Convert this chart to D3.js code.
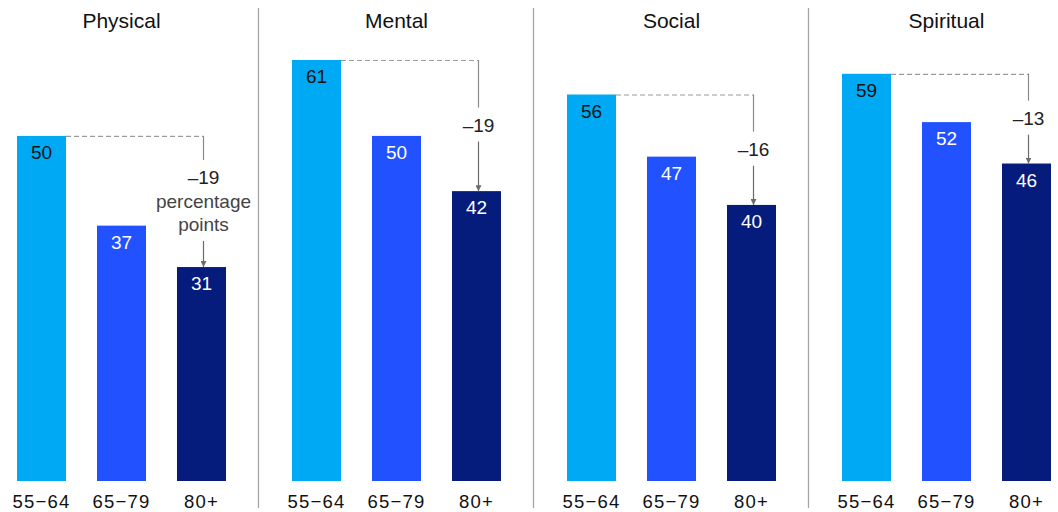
<!DOCTYPE html>
<html>
<head>
<meta charset="utf-8">
<script src="https://cdn.jsdelivr.net/npm/d3@7"></script>
<style>
  html, body { margin: 0; padding: 0; background: #fff; }
  svg { display: block; font-family: "Liberation Sans", Arial, Helvetica, sans-serif; }
</style>
</head>
<body>
<svg id="chart" width="1058" height="512"></svg>
<script>
// Share of respondents by age group, per dimension of health
const panels = ["Physical", "Mental", "Social", "Spiritual"];
const ageGroups = ["55\u221264", "65\u221279", "80+"];
const physical = [50, 37, 31];
const mental = [61, 50, 42];
const social = [56, 47, 40];
const spiritual = [59, 52, 46];
const changes = ["\u201319", "\u201319", "\u201316", "\u201313"];
const changeNotes = [["percentage", "points"], [], [], []];

const series = [physical, mental, social, spiritual];
const colors = ["#00A9F4", "#2251FF", "#051C7C"];
const labelColors = ["#111111", "#ffffff", "#ffffff"];

const svg = d3.select("#chart");
const panelWidth = 275;
const baseline = 481;

const y = d3.scaleLinear().domain([0, 61]).range([baseline, 60]);
const x = d3.scaleBand().domain(ageGroups).range([17, 226]).paddingInner(0.3875).paddingOuter(0);

// arrow marker for the change annotations
svg.append("defs").append("marker")
  .attr("id", "arrowhead")
  .attr("viewBox", "0 0 10 10")
  .attr("refX", 10).attr("refY", 5)
  .attr("markerWidth", 6).attr("markerHeight", 6)
  .attr("markerUnits", "userSpaceOnUse")
  .attr("orient", "auto")
  .append("path").attr("d", "M0,0 L10,5 L0,10 Z").attr("fill", "#6b6b6b");

// vertical dividers between panels
svg.selectAll("line.divider")
  .data(panels.slice(1))
  .join("line")
  .attr("class", "divider")
  .attr("x1", (d, i) => (i + 1) * panelWidth - 16.5)
  .attr("x2", (d, i) => (i + 1) * panelWidth - 16.5)
  .attr("y1", 8).attr("y2", 508)
  .attr("stroke", "#a6a6a6").attr("stroke-width", 1.3);

panels.forEach((name, p) => {
  const vals = series[p];
  const g = svg.append("g").attr("transform", `translate(${p * panelWidth},0)`);

  g.append("text")
    .attr("x", x(ageGroups[1]) + x.bandwidth() / 2)
    .attr("y", 28)
    .attr("text-anchor", "middle")
    .attr("font-size", 21)
    .attr("fill", "#111")
    .text(name);

  g.selectAll("rect")
    .data(vals)
    .join("rect")
    .attr("x", (d, i) => x(ageGroups[i]))
    .attr("y", d => y(d))
    .attr("width", x.bandwidth())
    .attr("height", d => y(0) - y(d))
    .attr("fill", (d, i) => colors[i]);

  g.selectAll("text.value")
    .data(vals)
    .join("text")
    .attr("class", "value")
    .attr("x", (d, i) => x(ageGroups[i]) + x.bandwidth() / 2)
    .attr("y", d => y(d) + 23)
    .attr("text-anchor", "middle")
    .attr("font-size", 19)
    .attr("fill", (d, i) => labelColors[i])
    .text(d => d);

  g.selectAll("text.cat")
    .data(ageGroups)
    .join("text")
    .attr("class", "cat")
    .attr("x", d => x(d) + x.bandwidth() / 2)
    .attr("y", 508)
    .attr("text-anchor", "middle")
    .attr("font-size", 18.5)
    .attr("letter-spacing", 1.2)
    .attr("fill", "#111")
    .text(d => d);

  // change annotation: dashed reference from the first bar, then arrow down to the last bar
  const yTop = y(vals[0]);
  const yEnd = y(vals[2]);
  const xA = x(ageGroups[2]) + x.bandwidth() / 2 + 2;
  const lines = [changes[p]].concat(changeNotes[p]);
  const lineH = 23.5;
  const mid = (yTop + yEnd) / 2;
  const firstY = mid - (lines.length - 1) * lineH / 2;
  const lastY = mid + (lines.length - 1) * lineH / 2;

  g.append("line")
    .attr("x1", x(ageGroups[0]) + x.bandwidth()).attr("x2", xA)
    .attr("y1", yTop + 0.5).attr("y2", yTop + 0.5)
    .attr("stroke", "#9a9a9a").attr("stroke-width", 1.2)
    .attr("stroke-dasharray", "5,3");

  g.append("line")
    .attr("x1", xA).attr("x2", xA)
    .attr("y1", yTop).attr("y2", firstY - 18)
    .attr("stroke", "#8a8a8a").attr("stroke-width", 1.2);

  g.append("line")
    .attr("x1", xA).attr("x2", xA)
    .attr("y1", lastY + 16).attr("y2", yEnd)
    .attr("stroke", "#6b6b6b").attr("stroke-width", 1.2)
    .attr("marker-end", "url(#arrowhead)");

  g.selectAll("text.note")
    .data(lines)
    .join("text")
    .attr("class", "note")
    .attr("x", xA)
    .attr("y", (d, i) => firstY + i * lineH + 6.5)
    .attr("text-anchor", "middle")
    .attr("font-size", 19)
    .attr("fill", (d, i) => i === 0 ? "#222" : "#444")
    .text(d => d);
});
</script>
</body>
</html>
